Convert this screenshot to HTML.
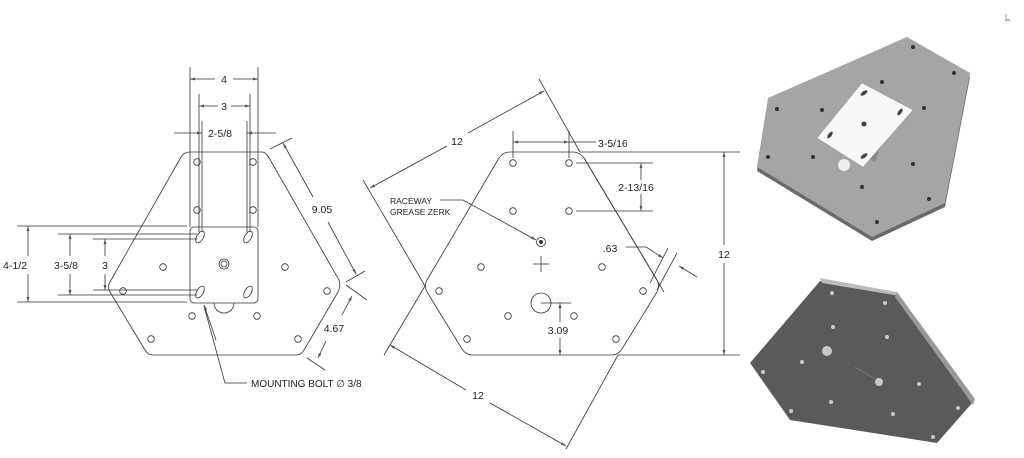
<!DOCTYPE html>
<html><head><meta charset="utf-8"><style>
html,body{margin:0;padding:0;background:#fff;}
svg{display:block;}
text{font-family:"Liberation Sans",sans-serif;fill:#222;}
</style></head><body>
<svg width="1024" height="458" viewBox="0 0 1024 458" xmlns="http://www.w3.org/2000/svg">
<defs>
<marker id="a" viewBox="0 0 10 10" refX="10" refY="5" markerWidth="7" markerHeight="5" orient="auto-start-reverse" markerUnits="userSpaceOnUse">
<path d="M0,2 L10,5 L0,8 z" fill="#555"/></marker>
</defs>
<rect width="1024" height="458" fill="#fff"/>
<g fill="none" stroke="#333" stroke-width="0.8">
<path d="M190,152 L262,152 Q265,152 268,156 L339,280 Q341,286 338,292 L304,350 Q301,355 296,355 L153,355 Q148,355 145,350 L110,292 Q107,287 110,282 L181,157 Q184,152 190,152 Z"/>
<rect x="190" y="227" width="68" height="76" rx="4"/>
<path d="M214,303 A10,10 0 0 0 234,303"/>
<circle cx="224" cy="264" r="5"/><circle cx="224" cy="264" r="3"/>
<g>
<circle cx="197" cy="162" r="3.3"/><circle cx="253" cy="162" r="3.3"/>
<circle cx="197" cy="210" r="3.3"/><circle cx="253" cy="210" r="3.3"/>
<circle cx="163" cy="267" r="3.3"/><circle cx="285" cy="267" r="3.3"/>
<circle cx="123" cy="291" r="3.3"/><circle cx="327" cy="291" r="3.3"/>
<circle cx="192" cy="316" r="3.3"/><circle cx="257" cy="316" r="3.3"/>
<circle cx="151" cy="339" r="3.3"/><circle cx="298" cy="339" r="3.3"/>
</g>
<ellipse cx="200" cy="237" rx="6.5" ry="3.3" transform="rotate(-60 200 237)"/>
<ellipse cx="248" cy="237" rx="6.5" ry="3.3" transform="rotate(-60 248 237)"/>
<ellipse cx="200" cy="292" rx="6.5" ry="3.3" transform="rotate(-60 200 292)"/>
<ellipse cx="248" cy="292" rx="6.5" ry="3.3" transform="rotate(-60 248 292)"/>
<line x1="190" y1="67" x2="190" y2="227"/><line x1="258" y1="67" x2="258" y2="227"/>
<line x1="199" y1="94" x2="199" y2="232"/><line x1="250" y1="94" x2="250" y2="232"/>
<line x1="202" y1="121" x2="202" y2="232"/><line x1="247" y1="121" x2="247" y2="232"/>
<line x1="215" y1="79" x2="190" y2="79" marker-end="url(#a)"/><line x1="233" y1="79" x2="258" y2="79" marker-end="url(#a)"/>
<line x1="218" y1="106" x2="199" y2="106" marker-end="url(#a)"/><line x1="231" y1="106" x2="250" y2="106" marker-end="url(#a)"/>
<line x1="174" y1="133" x2="202" y2="133" marker-end="url(#a)"/><line x1="276" y1="133" x2="247" y2="133" marker-end="url(#a)"/>
<line x1="17" y1="226" x2="187" y2="226"/><line x1="17" y1="302" x2="187" y2="302"/>
<line x1="58" y1="234" x2="197" y2="234"/><line x1="58" y1="295" x2="197" y2="295"/>
<line x1="93" y1="239" x2="197" y2="239"/><line x1="93" y1="290" x2="197" y2="290"/>
<line x1="28" y1="256" x2="28" y2="226" marker-end="url(#a)"/><line x1="28" y1="274" x2="28" y2="302" marker-end="url(#a)"/>
<line x1="70" y1="256" x2="70" y2="234" marker-end="url(#a)"/><line x1="70" y1="274" x2="70" y2="295" marker-end="url(#a)"/>
<line x1="105" y1="256" x2="105" y2="239" marker-end="url(#a)"/><line x1="105" y1="274" x2="105" y2="290" marker-end="url(#a)"/>
<line x1="270" y1="149" x2="292" y2="138"/>
<line x1="346" y1="282" x2="365" y2="271"/>
<line x1="346" y1="285" x2="367" y2="300"/>
<line x1="313" y1="197" x2="283" y2="143" marker-end="url(#a)"/>
<line x1="328" y1="222" x2="356" y2="274" marker-end="url(#a)"/>
<line x1="307" y1="358" x2="325" y2="370"/>
<line x1="342" y1="315" x2="352" y2="296" marker-end="url(#a)"/>
<line x1="326" y1="341" x2="318" y2="358" marker-end="url(#a)"/>
<polyline points="247,383 225,383 204,306"/>
<line x1="216" y1="340" x2="204" y2="305" marker-end="url(#a)"/>

<path d="M510,152 L573,152 Q580,152 584,158 L657,280 Q660,286 657,292 L622,349 Q618,355 612,355 L472,355 Q466,355 462,349 L427,292 Q424,286 427,280 L499,158 Q503,152 510,152 Z"/>
<circle cx="513" cy="163" r="3.3"/><circle cx="569" cy="163" r="3.3"/>
<circle cx="513" cy="211" r="3.3"/><circle cx="569" cy="211" r="3.3"/>
<circle cx="481" cy="267" r="3.3"/><circle cx="602" cy="267" r="3.3"/>
<circle cx="439" cy="291" r="3.3"/><circle cx="643" cy="291" r="3.3"/>
<circle cx="508" cy="316" r="3.3"/><circle cx="574" cy="316" r="3.3"/>
<circle cx="467" cy="339" r="3.3"/><circle cx="616" cy="339" r="3.3"/>
<circle cx="541" cy="242" r="4.5"/><circle cx="541" cy="242" r="1.6" fill="#333"/>
<line x1="533" y1="264" x2="549" y2="264"/><line x1="541" y1="256" x2="541" y2="272"/>
<circle cx="541" cy="303" r="10"/>
<line x1="539" y1="79" x2="580" y2="152"/>
<line x1="584" y1="158" x2="664" y2="292"/>
<line x1="363" y1="180" x2="425" y2="286"/>
<line x1="425" y1="286" x2="384" y2="355"/>
<line x1="618" y1="355" x2="566" y2="449"/>
<line x1="447" y1="146" x2="370" y2="188" marker-end="url(#a)"/>
<line x1="468" y1="133" x2="544" y2="91" marker-end="url(#a)"/>
<line x1="466" y1="390" x2="390" y2="345" marker-end="url(#a)"/>
<line x1="490" y1="403" x2="566" y2="446" marker-end="url(#a)"/>
<line x1="513" y1="131" x2="513" y2="158"/><line x1="569" y1="131" x2="569" y2="158"/>
<line x1="513" y1="142" x2="569" y2="142" marker-start="url(#a)" marker-end="url(#a)"/>
<line x1="569" y1="142" x2="596" y2="142"/>
<line x1="576" y1="163" x2="653" y2="163"/><line x1="576" y1="211" x2="653" y2="211"/>
<line x1="641" y1="180" x2="641" y2="163" marker-end="url(#a)"/>
<line x1="641" y1="194" x2="641" y2="211" marker-end="url(#a)"/>
<line x1="668" y1="248" x2="650" y2="283"/>
<line x1="677" y1="253" x2="657" y2="290"/>
<polyline points="626,247 646,247 663,258" marker-end="url(#a)"/>
<line x1="697" y1="277" x2="679" y2="266" marker-end="url(#a)"/>
<line x1="580" y1="152" x2="740" y2="152"/><line x1="618" y1="355" x2="740" y2="355"/>
<line x1="724" y1="245" x2="724" y2="152" marker-end="url(#a)"/>
<line x1="724" y1="263" x2="724" y2="355" marker-end="url(#a)"/>
<line x1="541" y1="303" x2="571" y2="303"/>
<line x1="560" y1="322" x2="560" y2="303" marker-end="url(#a)"/>
<line x1="560" y1="338" x2="560" y2="355" marker-end="url(#a)"/>
<polyline points="440,200 463,200 536,240" marker-end="url(#a)"/>
</g>
<g font-size="10.5">
<text x="224" y="83" text-anchor="middle">4</text>
<text x="224" y="110" text-anchor="middle">3</text>
<text x="220" y="137" text-anchor="middle">2-5/8</text>
<text x="15" y="269" text-anchor="middle">4-1/2</text>
<text x="66" y="269" text-anchor="middle">3-5/8</text>
<text x="105" y="269" text-anchor="middle">3</text>
<text x="322" y="213" text-anchor="middle">9.05</text>
<text x="334" y="332" text-anchor="middle">4.67</text>
<text x="251" y="387" font-size="10">MOUNTING BOLT ∅ 3/8</text>
<text x="457" y="145" text-anchor="middle">12</text>
<text x="478" y="399" text-anchor="middle">12</text>
<text x="598" y="147">3-5/16</text>
<text x="636" y="191" text-anchor="middle">2-13/16</text>
<text x="610" y="252" text-anchor="middle">.63</text>
<text x="724" y="258" text-anchor="middle">12</text>
<text x="558" y="334" text-anchor="middle">3.09</text>
<text x="390" y="204" font-size="8.5">RACEWAY</text>
<text x="390" y="215" font-size="8.5">GREASE ZERK</text>
</g>
<polygon points="907,41 970,77 945,207 872,241 757,171 768,102" fill="#6a6a6a"/>
<polygon points="907,37 970,73 945,203 872,237 757,167 768,98" fill="#a5a5a5"/>
<g fill="#333">
<circle cx="913" cy="47" r="2"/><circle cx="954" cy="73" r="2"/><circle cx="882" cy="82" r="2"/>
<circle cx="777" cy="109" r="2"/><circle cx="822" cy="110" r="2"/><circle cx="924" cy="108" r="2"/>
<circle cx="768" cy="157" r="2"/><circle cx="813" cy="157" r="2"/><circle cx="913" cy="164" r="2"/>
<circle cx="862" cy="187" r="2"/><circle cx="929" cy="199" r="2"/><circle cx="877" cy="222" r="2"/>
</g>
<circle cx="844" cy="165" r="6" fill="#eee"/>
<polygon points="868,140 880,148 875,162 864,156" fill="#888"/>
<polygon points="862,83 913,110 863,167 817,138" fill="#f8f8f8" stroke="#999" stroke-width="0.5"/>
<g fill="#444">
<ellipse cx="864" cy="93" rx="4" ry="1.8" transform="rotate(-35 864 93)"/>
<ellipse cx="900" cy="112" rx="4" ry="1.8" transform="rotate(-55 900 112)"/>
<ellipse cx="830" cy="135" rx="4" ry="1.8" transform="rotate(-55 830 135)"/>
<ellipse cx="864" cy="156" rx="4" ry="1.8" transform="rotate(-35 864 156)"/>
<circle cx="864" cy="124" r="2.5"/>
</g>
<polygon points="820,281 897,295 973,402 937,443 790,420 750,363" fill="#5a5a5a"/>
<polygon points="820,278 897,292 900,296 822,283" fill="#bbb"/>
<polygon points="897,292 975,399 973,405 895,297" fill="#999"/>
<g fill="#c8c8c8">
<circle cx="832" cy="293" r="2"/><circle cx="885" cy="303" r="2"/><circle cx="833" cy="327" r="2"/>
<circle cx="887" cy="337" r="2"/><circle cx="802" cy="362" r="2"/><circle cx="763" cy="372" r="2"/>
<circle cx="919" cy="384" r="2"/><circle cx="958" cy="408" r="2"/><circle cx="831" cy="402" r="2"/>
<circle cx="893" cy="414" r="2"/><circle cx="791" cy="411" r="2"/><circle cx="933" cy="437" r="2"/>
<circle cx="827" cy="351" r="5"/><circle cx="879" cy="382" r="4"/>
</g>
<line x1="855" y1="367" x2="875" y2="379" stroke="#888" stroke-width="0.6"/>
<path d="M1006,14 l0,7 l2,-2 l2,3" fill="none" stroke="#777" stroke-width="0.7"/>
</svg>
</body></html>
